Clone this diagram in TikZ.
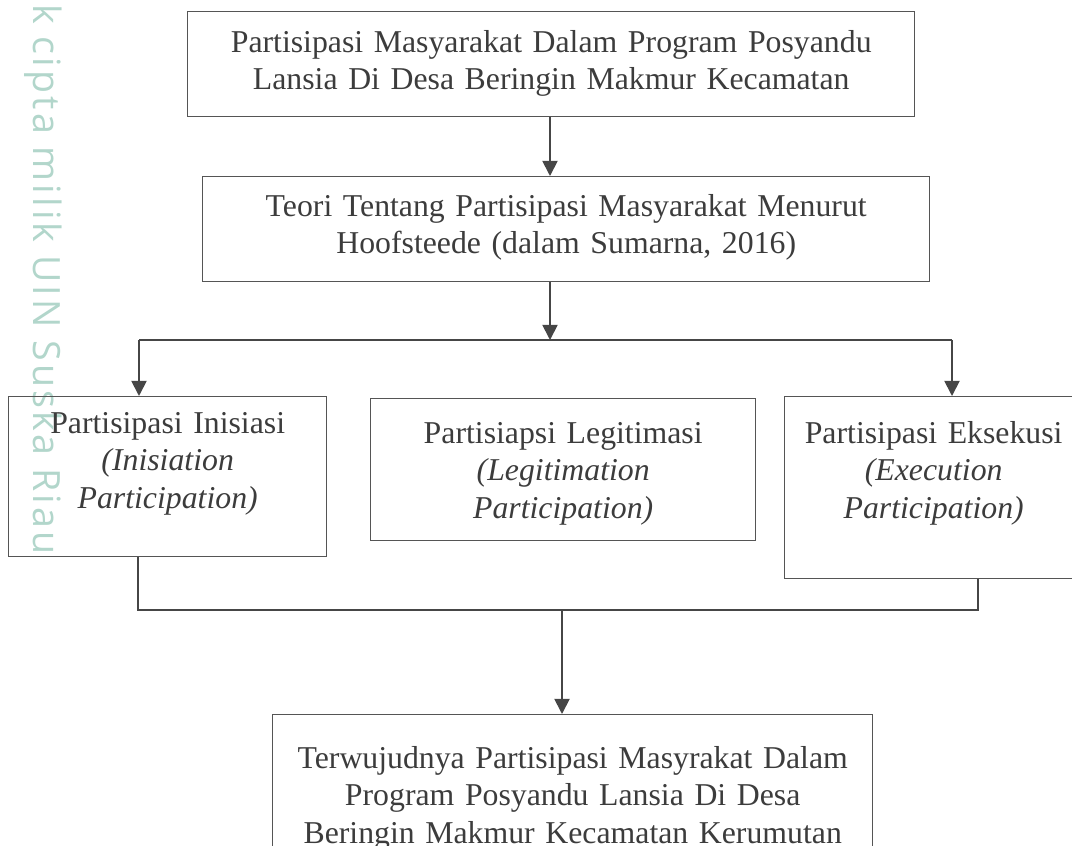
\documentclass[tikz,border=0pt]{standalone}
\usepackage{fontspec}
\setmainfont{Liberation Serif}
\newfontfamily\capfont[LetterSpace=8.3]{Open Sans}
\usetikzlibrary{arrows.meta}
\definecolor{garisabu}{RGB}{70,70,70}
\definecolor{tepiabu}{RGB}{85,85,85}
\definecolor{teksabu}{RGB}{60,60,60}
\definecolor{capuin}{RGB}{178,214,203}
\tikzset{
  kotak/.style={draw=tepiabu, line width=0.9pt, anchor=north west, inner sep=0pt,
    align=center, text=teksabu, font=\fontsize{22.6}{26.5}\selectfont},
  garis/.style={draw=garisabu, line width=1.3pt},
  panah/.style={garis, -{Triangle[length=0.38cm,width=0.38cm]}}
}
\begin{document}
\begin{tikzpicture}[x=0.025cm,y=-0.025cm]

  \clip (0,0) rectangle (1072,846);
  \useasboundingbox (0,0) rectangle (1072,846);

  \node[rotate=-90, anchor=base west, inner sep=0pt, text=capuin] (cap) at (33,4)
    {\resizebox{13.75cm}{!}{\capfont k cipta milik UIN Suska Riau}};

  \node[kotak, text width=18.175cm, text height=1.025cm, text depth=1.6cm] (atas) at (187,11)
    {Partisipasi Masyarakat Dalam Program Posyandu\\Lansia Di Desa Beringin Makmur Kecamatan};
  \node[kotak, text width=18.175cm, text height=1.0cm, text depth=1.625cm] (teori) at (202,176)
    {Teori Tentang Partisipasi Masyarakat Menurut\\Hoofsteede (dalam Sumarna, 2016)};

  \node[kotak, text width=7.95cm, text height=0.925cm, text depth=3.075cm] (inisiasi) at (8,396)
    {Partisipasi Inisiasi\\\textit{(Inisiation}\\\textit{Participation)}};
  \node[kotak, text width=9.625cm, text height=1.125cm, text depth=2.425cm] (legitimasi) at (370,398)
    {Partisiapsi Legitimasi\\\textit{(Legitimation}\\\textit{Participation)}};
  \node[kotak, text width=7.45cm, text height=1.175cm, text depth=3.375cm] (eksekusi) at (784,396)
    {Partisipasi Eksekusi\\\textit{(Execution}\\\textit{Participation)}};

  \node[kotak, text width=15cm, text height=1.35cm, text depth=3.5cm] (hasil) at (272,714)
    {Terwujudnya Partisipasi Masyrakat Dalam\\Program Posyandu Lansia Di Desa\\Beringin Makmur Kecamatan Kerumutan};

  \coordinate (cabang) at (550,340);
  \coordinate (kiri) at (139,340);
  \coordinate (kanan) at (952,340);
  \coordinate (gabungkiri) at (138,610);
  \coordinate (gabungkanan) at (978,610);
  \coordinate (gabung) at (562,610);

  \draw[panah] (cabang |- atas.south) -- (cabang |- teori.north);
  \draw[panah] (cabang |- teori.south) -- (cabang);
  \draw[garis] (kiri) -- (kanan);
  \draw[panah] (kiri) -- (kiri |- inisiasi.north);
  \draw[panah] (kanan) -- (kanan |- eksekusi.north);

  \draw[garis] (gabungkiri |- inisiasi.south) -- (gabungkiri) -- (gabungkanan) -- (gabungkanan |- eksekusi.south);
  \draw[panah] (gabung) -- (gabung |- hasil.north);

\end{tikzpicture}
\end{document}
